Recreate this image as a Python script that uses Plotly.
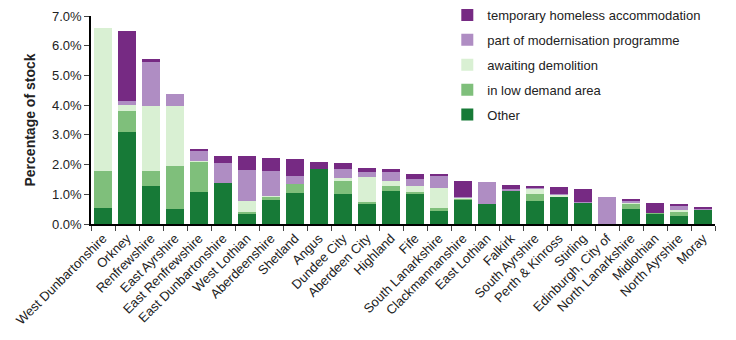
import plotly.graph_objects as go

categories = ["West Dunbartonshire", "Orkney", "Renfrewshire", "East Ayrshire", "East Renfrewshire",
              "East Dunbartonshire", "West Lothian", "Aberdeenshire", "Shetland", "Angus", "Dundee City",
              "Aberdeen City", "Highland", "Fife", "South Lanarkshire", "Clackmannanshire", "East Lothian",
              "Falkirk", "South Ayrshire", "Perth & Kinross", "Stirling", "Edinburgh, City of",
              "North Lanarkshire", "Midlothian", "North Ayrshire", "Moray"]

other = [0.54, 3.10, 1.28, 0.50, 1.09, 1.38, 0.35, 0.81, 1.04, 1.84, 1.01, 0.68, 1.11, 1.04, 0.44,
         0.82, 0.67, 1.11, 0.77, 0.94, 0.71, 0.0, 0.52, 0.35, 0.27, 0.48]
low_demand = [1.25, 0.70, 0.50, 1.45, 1.00, 0.0, 0.04, 0.11, 0.31, 0.0, 0.44, 0.06, 0.17, 0.04, 0.10,
              0.03, 0.0, 0.0, 0.24, 0.0, 0.03, 0.0, 0.16, 0.03, 0.13, 0.02]
awaiting_demolition = [4.81, 0.20, 2.19, 2.02, 0.02, 0.0, 0.37, 0.02, 0.0, 0.0, 0.10, 0.84, 0.17, 0.20,
                       0.68, 0.03, 0.0, 0.0, 0.20, 0.04, 0.0, 0.0, 0.03, 0.0, 0.07, 0.0]
modernisation = [0.0, 0.14, 1.49, 0.41, 0.38, 0.67, 1.06, 0.84, 0.28, 0.0, 0.30, 0.17, 0.30, 0.23, 0.40,
                 0.02, 0.74, 0.08, 0.02, 0.03, 0.01, 0.91, 0.05, 0.0, 0.14, 0.02]
temporary_homeless = [0.0, 2.37, 0.08, 0.0, 0.02, 0.24, 0.47, 0.44, 0.56, 0.25, 0.20, 0.15, 0.10, 0.17,
                      0.03, 0.55, 0.0, 0.12, 0.03, 0.23, 0.43, 0.0, 0.08, 0.33, 0.06, 0.04]

series = [
    ("Other", other, "#177a37"),
    ("in low demand area", low_demand, "#7fbf7b"),
    ("awaiting demolition", awaiting_demolition, "#d9f0d3"),
    ("part of modernisation programme", modernisation, "#af8dc3"),
    ("temporary homeless accommodation", temporary_homeless, "#762a83"),
]

fig = go.Figure()
for i, (name, vals, col) in enumerate(series):
    fig.add_trace(go.Bar(x=categories, y=vals, name=name, marker_color=col,
                         marker_line_width=0, legendgroup=name, legendrank=100 - i))

fig.update_layout(
    barmode="stack",
    bargap=0.25,
    width=736, height=340,
    margin=dict(l=91, r=21, t=16, b=116, autoexpand=False),
    plot_bgcolor="white", paper_bgcolor="white",
    font=dict(family="Liberation Sans, Arial, sans-serif", size=13, color="#222"),
    legend=dict(x=0.571, y=1.022, xanchor="left", yanchor="top", yref="container",
                bgcolor="rgba(0,0,0,0)", font=dict(size=13), tracegroupgap=5, itemwidth=30),
    showlegend=True,
)
fig.update_xaxes(showline=True, linecolor="black", linewidth=1.5, ticks="outside", ticklen=5,
                 tickson="boundaries", tickangle=-45, tickfont=dict(size=13), showgrid=False)
fig.update_yaxes(range=[0, 7], dtick=1, tickformat=".1f", ticksuffix="%", showline=True,
                 linecolor="black", linewidth=1.5, ticks="outside", ticklen=5, showgrid=False,
                 zeroline=False, tickfont=dict(size=13),
                 title=dict(text="<b>Percentage of stock</b>", font=dict(size=14), standoff=13))

fig.write_html("out.html")
